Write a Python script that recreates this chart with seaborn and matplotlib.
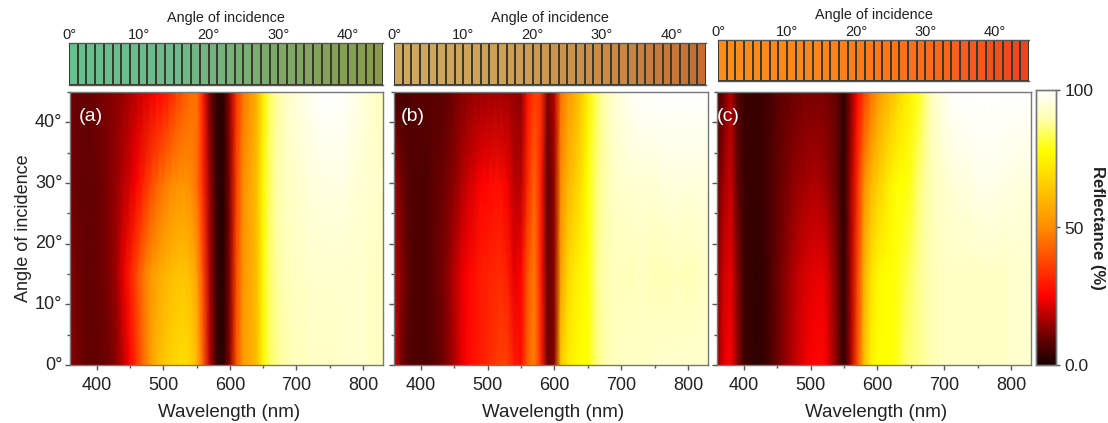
import numpy as np
import matplotlib
matplotlib.use("Agg")
import matplotlib.pyplot as plt
import seaborn as sns
from matplotlib.colors import LinearSegmentedColormap

sns.set_style("white")
plt.rcParams["font.family"] = ["Liberation Sans", "DejaVu Sans"]

W, H = 1108, 423

wavelengths = list(range(360, 840, 10))
row_angles = [0, 15, 30, 45]

# reflectance (%), one list per angle
a_0 = [14,12,10,9,9,10,11,14,19,25, 34,44,53,60,64,67,69,70,68,62, 42,18,4,2,14,40,54,58,62,76, 84,87,89,90,91,91,92,92,92,92, 92,93,93,93,93,92,92,91]
a_15 = [13,11,10,9,10,11,13,16,23,30, 38,46,52,56,59,61,63,64,62,56, 38,17,4,2,13,38,52,57,62,76, 85,88,90,91,92,92,93,93,93,93, 93,93,93,93,93,92,92,91]
a_30 = [11,10,9,9,10,11,13,15,18,21, 25,31,37,42,46,49,51,52,50,45, 32,15,4,2,13,36,50,56,62,76, 85,89,91,92,93,94,95,95,96,96, 96,96,95,94,94,93,93,92]
a_45 = [11,10,10,10,11,12,13,14,15,17, 19,21,23,25,27,31,36,40,44,46, 30,12,3,2,15,34,46,52,58,74, 84,88,91,93,95,96,98,99,100,100, 100,99,98,97,95,93,92,91]

b_0 = [22,12,8,7,7,7,8,10,13,17, 22,26,28,30,32,34,36,36,30,27, 42,48,32,10,13,65,73,76,78,78, 84,88,90,91,92,92,92,92,92,93, 93,93,93,93,93,93,93,93]
b_15 = [18,14,9,7,7,7,9,11,14,18, 22,25,28,30,31,32,33,30,23,25, 40,47,30,9,14,55,68,73,76,78, 85,89,90,91,91,91,91,92,91,90, 90,90,91,91,90,91,92,92]
b_30 = [16,12,8,7,7,7,9,10,12,14, 17,20,22,25,26,27,27,24,18,18, 32,43,30,8,15,50,60,65,70,78, 84,88,90,92,93,93,94,94,94,94, 95,95,95,95,95,95,95,95]
b_45 = [7,6,7,8,8,8,8,8,9,11, 13,14,15,15,16,16,16,16,15,14, 28,36,34,12,18,45,53,58,65,74, 82,88,91,94,96,98,99,100,100,100, 100,100,100,100,100,100,100,100]

c_0 = [14,22,25,15,5,4,3,4,7,10, 14,17,20,23,25,26,26,20,12,3, 16,38,62,74,78,78,78,80,84,86, 87,88,90,91,92,92,92,92,92,92, 92,92,92,92,93,93,93,93]
c_15 = [13,20,23,14,5,4,3,4,7,10, 13,16,19,21,22,23,23,18,11,3, 16,36,58,70,76,78,78,79,82,84, 87,89,90,91,92,92,92,92,92,92, 92,92,92,92,93,93,93,93]
c_30 = [9,16,20,10,5,4,4,5,7,9, 11,13,15,16,17,17,16,13,9,3, 16,32,50,60,66,70,75,78,78,80, 85,88,90,92,93,94,95,95,96,97, 97,97,97,96,96,95,95,95]
c_45 = [6,10,18,8,5,4,4,5,6,8, 9,10,11,12,12,12,12,11,9,3, 13,26,36,45,52,58,62,67,72,75, 79,85,90,94,97,99,100,100,100,100, 100,100,100,100,100,100,100,100]

# perceived colour of the sample at 0, 15, 30, 45 degrees
strip_a = ["#66c090", "#6fb98c", "#7fa868", "#8a9a48"]
strip_b = ["#cfa860", "#cfa055", "#c98b48", "#c66a30"]
strip_c = ["#ff8c18", "#ff8418", "#ff6a1a", "#ee4020"]
strip_angles = np.arange(0, 45, 1.25)

x_ticks = [400, 500, 600, 700, 800]
x_minor = [450, 550, 650, 750]
y_ticks = [0, 10, 20, 30, 40]
y_minor = [5, 15, 25, 35, 45]

refl_cmap = LinearSegmentedColormap.from_list("refl", [
    (0.0, "#180000"), (0.12, "#7a0000"), (0.25, "#ff0000"), (0.5, "#ff8c00"),
    (0.78, "#ffff00"), (0.9, "#ffffb4"), (1.0, "#ffffff")])


def px_axes(fig, l, t, r, b):
    return fig.add_axes([l / W, 1 - b / H, (r - l) / W, (b - t) / H])


def x_pos(nm):
    return [(v - wavelengths[0]) / 10 for v in nm]


def y_pos(ang):
    return [v / 15 for v in ang]


fig = plt.figure(figsize=(W / 100, H / 100), dpi=100)
cax = px_axes(fig, 1036, 90, 1056, 365)

panels = [
    ("(a)", 0.027, [a_0, a_15, a_30, a_45], strip_a, (70, 383), (69, 383, 43, 85)),
    ("(b)", 0.022, [b_0, b_15, b_30, b_45], strip_b, (394, 708), (394, 706, 43, 85)),
    ("(c)", 0.0, [c_0, c_15, c_30, c_45], strip_c, (717, 1031), (718, 1029, 40, 81)),
]

for i, (name, name_x, rows, strip, (l, r), (sl, sr, st, sb)) in enumerate(panels):
    ax = px_axes(fig, l, 92, r, 365)
    last = i == 2
    sns.heatmap(np.array(rows), ax=ax, cmap=refl_cmap, vmin=0, vmax=100,
                shading="gouraud", cbar=last, cbar_ax=cax if last else None)
    ax.set_xlim(0, len(wavelengths) - 1)
    ax.set_ylim(0, len(row_angles) - 1)
    ax.set_xticks(x_pos(x_ticks))
    ax.set_xticklabels(x_ticks, rotation=0, fontsize=13, color="#222222")
    ax.set_xticks(x_pos(x_minor), minor=True)
    ax.set_yticks(y_pos(y_ticks))
    ax.set_yticks(y_pos(y_minor), minor=True)
    if i == 0:
        ax.set_yticklabels([f"{v}°" for v in y_ticks], rotation=0, fontsize=13, color="#222222")
        ax.set_ylabel("Angle of incidence", fontsize=13, color="#222222", labelpad=2)
    else:
        ax.set_yticklabels([])
    ax.set_xlabel("Wavelength (nm)", fontsize=13.5, color="#222222", labelpad=7, x=0.507)
    ax.tick_params(axis="x", which="major", length=3.5, width=1, color="#555555", bottom=True, pad=5)
    ax.tick_params(axis="y", which="major", length=3.5, width=1, color="#555555", left=True, pad=2)
    ax.tick_params(axis="both", which="minor", length=2, width=1, color="#555555", bottom=True, left=True)
    for s in ax.spines.values():
        s.set_visible(True)
        s.set_color("#777777")
        s.set_linewidth(1)
    ax.text(name_x, 0.91, name, transform=ax.transAxes, color="white", fontsize=14, va="center")

    # sample colour strip above the panel
    sax = px_axes(fig, sl, st, sr, sb)
    strip_cmap = LinearSegmentedColormap.from_list("s", strip)
    sns.heatmap(strip_angles[None, :], ax=sax, cmap=strip_cmap, vmin=0, vmax=45, cbar=False,
                linewidths=0.35, linecolor="#3a3a2c", xticklabels=False, yticklabels=False)
    sax.set_xlim(0, len(strip_angles))
    sax.xaxis.tick_top()
    sax.set_xticks([v / 1.25 for v in y_ticks])
    sax.set_xticklabels([f"{v}°" for v in y_ticks], fontsize=10.5, color="#222222", rotation=0)
    sax.tick_params(axis="x", length=2, width=0.8, direction="in", pad=1, top=True, bottom=False)
    sax.set_yticks([])
    for side, s in sax.spines.items():
        s.set_visible(side in ("top", "bottom"))
        s.set_color("#555555")
        s.set_linewidth(1)
    fig.text((sl + sr) / 2 / W, 1 - (st - 25) / H, "Angle of incidence", fontsize=10.4,
             color="#222222", ha="center", va="center")

cax.set_yticks([0, 50, 100])
cax.set_yticklabels(["0.0", "50", "100"], fontsize=12.5, color="#222222")
cax.tick_params(axis="y", length=3, width=1, color="#555555", right=True, pad=3)
for s in cax.spines.values():
    s.set_visible(True)
    s.set_color("#777777")
    s.set_linewidth(1)
fig.text(1097 / W, 1 - 228 / H, "Reflectance (%)", fontsize=12, fontweight="bold", rotation=270,
         color="#222222", ha="center", va="center")

fig.savefig("out.png", dpi=100)
